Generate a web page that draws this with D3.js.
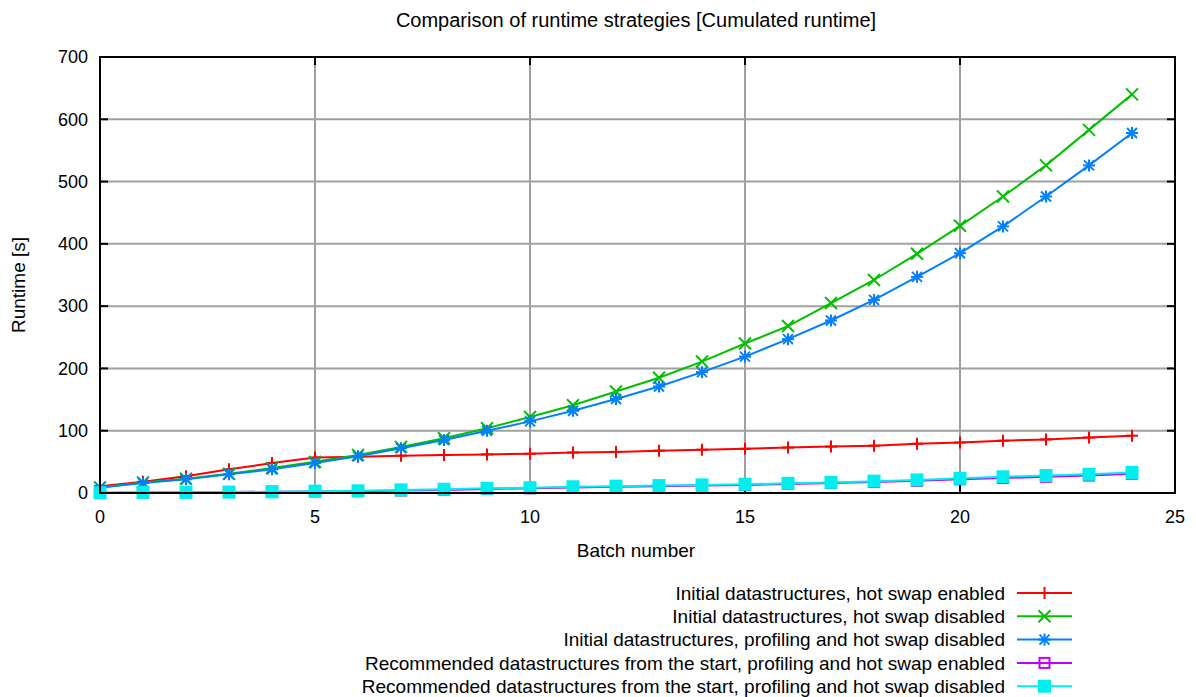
<!DOCTYPE html>
<html>
<head>
<meta charset="utf-8">
<script src="https://cdn.jsdelivr.net/npm/d3@7"></script>
<style>
  body { margin: 0; background: #fff; }
  svg { display: block; font-family: "Liberation Sans", Arial, sans-serif; }
</style>
</head>
<body>
<svg id="chart"></svg>
<script>
'use strict';

const WIDTH = 1196;
const HEIGHT = 697;
const M = { left: 100, right: 21, top: 57, bottom: 204 };

const BATCHES = d3.range(0, 25);
const X_TICKS = [0, 5, 10, 15, 20, 25];
const Y_TICKS = [0, 100, 200, 300, 400, 500, 600, 700];

const hotSwapEnabled = [11, 18, 27, 38, 48, 57, 58, 60, 61, 62, 63, 65, 66, 68, 69.5, 71, 73, 74.5, 76, 79, 81, 84, 86, 89, 92];
const hotSwapDisabled = [9, 17, 23, 31, 40, 50, 61, 74, 88, 104, 122, 141, 163, 185, 211, 240, 268, 305, 342, 384, 429, 476, 526, 583, 640];
const profilingDisabled = [9, 16, 22, 30, 38, 48, 59, 72, 85, 100, 115, 132, 151, 171, 194, 219, 247, 277, 310, 347, 385, 428, 476, 526, 578];
const recEnabled = [0.5, 1, 1, 1.5, 2, 2.5, 3, 4, 5, 6.5, 7.5, 9, 10, 11, 12, 13, 14.5, 16, 17.5, 19.5, 22, 24, 26, 28, 31];
const recDisabled = [0.5, 1, 1, 1.5, 2, 3, 3.5, 5, 6, 7.5, 8.5, 10, 11, 12, 13, 14, 15.5, 17, 19, 21, 23.5, 26, 28, 30, 33];

const SERIES = [
  { label: 'Initial datastructures, hot swap enabled', values: hotSwapEnabled, color: '#ff0000', marker: 'plus' },
  { label: 'Initial datastructures, hot swap disabled', values: hotSwapDisabled, color: '#00c000', marker: 'cross' },
  { label: 'Initial datastructures, profiling and hot swap disabled', values: profilingDisabled, color: '#0080ff', marker: 'star' },
  { label: 'Recommended datastructures from the start, profiling and hot swap enabled', values: recEnabled, color: '#c000ff', marker: 'box' },
  { label: 'Recommended datastructures from the start, profiling and hot swap disabled', values: recDisabled, color: '#00eeee', marker: 'fbox' },
];

const svg = d3.select('#chart').attr('width', WIDTH).attr('height', HEIGHT);

const x = d3.scaleLinear().domain([0, 25]).range([M.left, WIDTH - M.right]);
const y = d3.scaleLinear().domain([0, 700]).range([HEIGHT - M.bottom, M.top]);

// grid
const grid = svg.append('g').attr('stroke', '#a0a0a0').attr('stroke-width', 2);
X_TICKS.slice(1, -1).forEach(t => {
  grid.append('line').attr('x1', x(t)).attr('x2', x(t)).attr('y1', y(0)).attr('y2', y(700));
});
Y_TICKS.slice(1, -1).forEach(t => {
  grid.append('line').attr('x1', x(0)).attr('x2', x(25)).attr('y1', y(t)).attr('y2', y(t));
});

// inward ticks on all four sides
const ticks = svg.append('g').attr('stroke', '#000').attr('stroke-width', 2);
Y_TICKS.forEach(t => {
  ticks.append('line').attr('x1', x(0)).attr('x2', x(0) + 8).attr('y1', y(t)).attr('y2', y(t));
  ticks.append('line').attr('x1', x(25)).attr('x2', x(25) - 8).attr('y1', y(t)).attr('y2', y(t));
});
X_TICKS.forEach(t => {
  ticks.append('line').attr('x1', x(t)).attr('x2', x(t)).attr('y1', y(0)).attr('y2', y(0) - 8);
  ticks.append('line').attr('x1', x(t)).attr('x2', x(t)).attr('y1', y(700)).attr('y2', y(700) + 8);
});

// tick labels
const labels = svg.append('g').attr('font-size', 18).attr('fill', '#000');
Y_TICKS.forEach(t => {
  labels.append('text').attr('x', x(0) - 12).attr('y', y(t)).attr('dy', '0.35em')
    .attr('text-anchor', 'end').text(t);
});
X_TICKS.forEach(t => {
  labels.append('text').attr('x', x(t)).attr('y', y(0) + 30)
    .attr('text-anchor', 'middle').text(t);
});

svg.append('text').attr('x', 636).attr('y', 27)
  .attr('text-anchor', 'middle').attr('font-size', 20).text('Comparison of runtime strategies [Cumulated runtime]');
svg.append('text').attr('x', 636).attr('y', 557)
  .attr('text-anchor', 'middle').attr('font-size', 19).text('Batch number');
svg.append('text').attr('transform', `translate(25,${(y(0) + y(700)) / 2 + 10}) rotate(-90)`)
  .attr('text-anchor', 'middle').attr('font-size', 19).text('Runtime [s]');

function drawMarker(g, kind, color, cx, cy) {
  const s = 6;
  const p = g.append('g').attr('transform', `translate(${cx},${cy})`)
    .attr('stroke', color).attr('stroke-width', 2).attr('fill', 'none');
  if (kind === 'plus' || kind === 'star') {
    p.append('line').attr('x1', -s).attr('x2', s).attr('y1', 0).attr('y2', 0);
    p.append('line').attr('x1', 0).attr('x2', 0).attr('y1', -s).attr('y2', s);
  }
  if (kind === 'cross' || kind === 'star') {
    const d = kind === 'star' ? 5 : 6;
    p.append('line').attr('x1', -d).attr('x2', d).attr('y1', -d).attr('y2', d);
    p.append('line').attr('x1', -d).attr('x2', d).attr('y1', d).attr('y2', -d);
  }
  if (kind === 'box') {
    p.append('rect').attr('x', -5).attr('y', -5).attr('width', 10).attr('height', 10);
  }
  if (kind === 'fbox') {
    p.attr('stroke', 'none').attr('fill', color);
    p.append('rect').attr('x', -6.5).attr('y', -6.5).attr('width', 13).attr('height', 13);
  }
}

// series
const line = d3.line().x((d, i) => x(BATCHES[i])).y(d => y(d));
const plot = svg.append('g');
SERIES.forEach(s => {
  plot.append('path').datum(s.values).attr('d', line)
    .attr('fill', 'none').attr('stroke', s.color).attr('stroke-width', 2);
  s.values.forEach((v, i) => drawMarker(plot, s.marker, s.color, x(BATCHES[i]), y(v)));
});

// frame
svg.append('rect').attr('x', x(0)).attr('y', y(700))
  .attr('width', x(25) - x(0)).attr('height', y(0) - y(700))
  .attr('fill', 'none').attr('stroke', '#000').attr('stroke-width', 2);

// legend
const legend = svg.append('g').attr('font-size', 19);
SERIES.forEach((s, i) => {
  const ly = 593 + i * 23.3;
  legend.append('text').attr('x', 1005).attr('y', ly).attr('dy', '0.35em')
    .attr('text-anchor', 'end').text(s.label);
  legend.append('line').attr('x1', 1017).attr('x2', 1072).attr('y1', ly).attr('y2', ly)
    .attr('stroke', s.color).attr('stroke-width', 2);
  drawMarker(legend, s.marker, s.color, 1044.5, ly);
});
</script>
</body>
</html>
